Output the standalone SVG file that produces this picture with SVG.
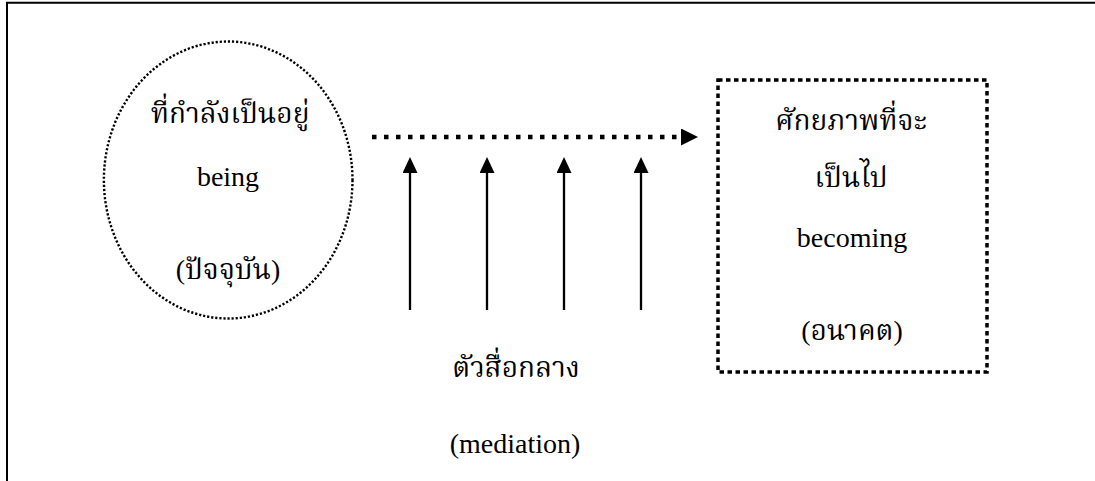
<svg xmlns="http://www.w3.org/2000/svg" width="1095" height="481" viewBox="0 0 1095 481">
<style>
.frame{stroke:#000;stroke-width:2;fill:none}
.t{font-family:"Liberation Serif","Noto Serif Thai","Noto Sans Thai",serif;font-size:28px;fill:#000;text-anchor:middle}
.th{font-family:"Liberation Serif","Noto Serif Thai","Noto Sans Thai",serif;font-size:28px;fill:#000;text-anchor:middle}
.dots{fill:none;stroke:#000;stroke-width:2.4;stroke-dasharray:2.2 1.9}
.sq{fill:none;stroke:#000;stroke-width:3.5;stroke-dasharray:4.5 3.5}
.flow{stroke:#000;stroke-width:4.5;stroke-dasharray:4.5 7.5;fill:none}
.up{stroke:#000;stroke-width:2.3;fill:none}
</style>
<defs>
<marker id="ahBig" markerUnits="userSpaceOnUse" viewBox="0 0 17 17" markerWidth="17" markerHeight="17" refX="0" refY="8.5" orient="auto"><path d="M0,0 L17,8.5 L0,17 z" fill="#000"/></marker>
<marker id="ahUp" markerUnits="userSpaceOnUse" viewBox="0 0 16 15" markerWidth="16" markerHeight="15" refX="0" refY="7.5" orient="auto"><path d="M0,0 L16,7.5 L0,15 z" fill="#000"/></marker>
</defs>
<rect width="1095" height="481" fill="#fff"/>
<path class="frame" d="M7,481 V2.7 H1095"/>
<g id="node-being">
<ellipse class="dots" cx="228.2" cy="180" rx="124.3" ry="138.5"/>
<text class="th" x="230" y="123">ที่กำลังเป็นอยู่</text>
<text class="t" x="228" y="186">being</text>
<text class="th" x="228" y="279">(ปัจจุบัน)</text>
</g>
<g id="node-becoming">
<rect class="sq" x="718" y="80" width="269" height="292"/>
<text class="th" x="851" y="130">ศักยภาพที่จะ</text>
<text class="th" x="851" y="187">เป็นไป</text>
<text class="t" x="852" y="247">becoming</text>
<text class="th" x="852" y="340">(อนาคต)</text>
</g>
<g id="node-mediation">
<text class="th" x="516" y="377">ตัวสื่อกลาง</text>
<text class="t" x="515" y="453">(mediation)</text>
</g>
<g id="connectors">
<line class="flow" x1="372" y1="137" x2="681" y2="137" marker-end="url(#ahBig)"/>
<line class="up" x1="410" y1="310" x2="410" y2="173" marker-end="url(#ahUp)"/>
<line class="up" x1="487" y1="310" x2="487" y2="173" marker-end="url(#ahUp)"/>
<line class="up" x1="564" y1="310" x2="564" y2="173" marker-end="url(#ahUp)"/>
<line class="up" x1="641" y1="310" x2="641" y2="173" marker-end="url(#ahUp)"/>
</g>
</svg>
